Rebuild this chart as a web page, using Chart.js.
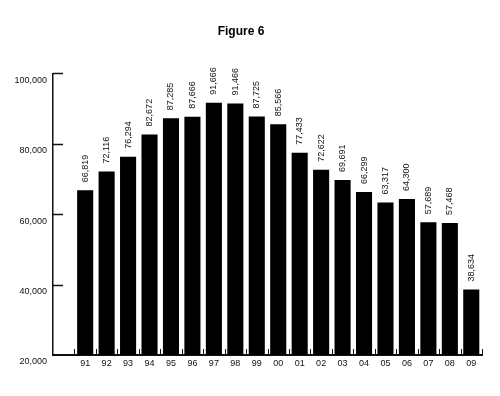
<!DOCTYPE html>
<html>
<head>
<meta charset="utf-8">
<style>
  html, body { margin: 0; padding: 0; background: #fff; }
  #chart { display: block; }
</style>
<script src="https://cdn.jsdelivr.net/npm/chart.js@4/dist/chart.umd.min.js"></script>
</head>
<body>
<canvas id="chart" width="500" height="396"></canvas>
<script>
// Categories: leading blank slot keeps the gap between axis and first bar
const years = ['', '91', '92', '93', '94', '95', '96', '97', '98', '99',
  '00', '01', '02', '03', '04', '05', '06', '07', '08', '09'];

// Series values
const counts = [null, 66819, 72116, 76294, 82672, 87285, 87666, 91666, 91466, 87725,
  85566, 77433, 72622, 69691, 66299, 63317, 64300, 57689, 57468, 38634];

// Y tick values
const yTicks = [20000, 40000, 60000, 80000, 100000];

const fmt = v => v.toLocaleString('en-US');

/**
 * Draw inward tick marks on both axes and rotated value labels above bars
 */
const figureMarks = {
  id: 'figureMarks',
  afterDatasetsDraw(chart) {
    const ctx = chart.ctx;
    const x = chart.scales.x;
    const y = chart.scales.y;
    const area = chart.chartArea;

    ctx.save();
    ctx.strokeStyle = '#111';

    // y ticks point right into the plot
    ctx.lineWidth = 1.5;
    yTicks.forEach(v => {
      if (v === yTicks[0]) return;
      const py = Math.round(y.getPixelForValue(v)) + 0.5;
      ctx.beginPath();
      ctx.moveTo(area.left, py);
      ctx.lineTo(area.left + 10, py);
      ctx.stroke();
    });

    // x ticks point up, at category boundaries
    ctx.lineWidth = 1;
    const step = x.getPixelForValue(1) - x.getPixelForValue(0);
    for (let i = 1; i <= years.length; i++) {
      const px = Math.round(x.getPixelForValue(i) - step / 2) + 0.5;
      ctx.beginPath();
      ctx.moveTo(px, area.bottom);
      ctx.lineTo(px, area.bottom - 6);
      ctx.stroke();
    }

    // value labels, rotated, above each bar
    ctx.fillStyle = '#111';
    ctx.font = '9px "Liberation Sans", Arial, sans-serif';
    ctx.textAlign = 'left';
    ctx.textBaseline = 'middle';
    chart.getDatasetMeta(0).data.forEach((bar, i) => {
      if (counts[i] == null) return;
      ctx.save();
      ctx.translate(bar.x, bar.y - 8);
      ctx.rotate(-Math.PI / 2);
      ctx.fillText(fmt(counts[i]), 0, 0);
      ctx.restore();
    });

    ctx.restore();
  }
};

new Chart(document.getElementById('chart'), {
  type: 'bar',
  data: {
    labels: years,
    datasets: [{
      data: counts,
      backgroundColor: '#000',
      borderWidth: 0,
      barPercentage: 0.75,
      categoryPercentage: 1
    }]
  },
  options: {
    responsive: false,
    animation: false,
    layout: {
      padding: { top: 0, right: 18, bottom: 0, left: 0 }
    },
    plugins: {
      legend: { display: false },
      tooltip: { enabled: false },
      title: {
        display: true,
        text: 'Figure 6',
        color: '#000',
        font: { family: '"Liberation Sans", Arial, sans-serif', size: 12, weight: 'bold' },
        padding: { top: 24, bottom: 35 }
      }
    },
    scales: {
      x: {
        grid: { display: false, drawTicks: false },
        border: { display: true, color: '#111', width: 2 },
        ticks: {
          color: '#111',
          padding: 3,
          maxRotation: 0,
          autoSkip: false,
          font: { family: '"Liberation Sans", Arial, sans-serif', size: 9 }
        },
        afterFit(scale) { scale.height = 41; }
      },
      y: {
        min: 20000,
        max: 100000,
        grid: { display: false, drawTicks: false },
        border: { display: true, color: '#111', width: 1.5 },
        afterBuildTicks(scale) { scale.ticks = yTicks.map(v => ({ value: v })); },
        ticks: {
          color: '#111',
          padding: 6,
          labelOffset: 7,
          callback: v => fmt(v),
          font: { family: '"Liberation Sans", Arial, sans-serif', size: 9 }
        },
        afterFit(scale) { scale.width = 53; }
      }
    }
  },
  plugins: [figureMarks]
});
</script>
</body>
</html>
